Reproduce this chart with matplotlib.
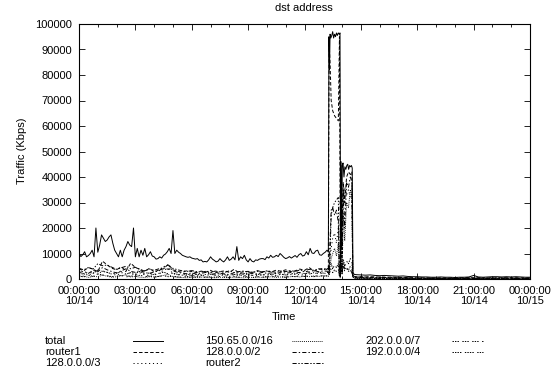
import numpy as np
import matplotlib
matplotlib.use('Agg')
import matplotlib.pyplot as plt
from matplotlib.lines import Line2D
from matplotlib.ticker import MultipleLocator

plt.rcParams['font.family'] = ['Liberation Sans', 'DejaVu Sans']
plt.rcParams['lines.scale_dashes'] = False

# ---------------- data (values in thousands of Kbps) ----------------
# total: 6-minute grid from 00:00 up to the spike
total_pre = [10.0, 8.8, 9.5, 10.7, 8.7, 9.2, 10.0, 11.3, 8.7, 20.0,
             10.5, 13.3, 17.3, 16.0, 14.7, 15.3, 16.5, 17.3, 14.0, 11.3,
             10.0, 8.7, 11.3, 8.7, 11.3, 12.7, 14.7, 13.3, 12.7, 20.0,
             8.7, 12.0, 8.7, 11.3, 9.3, 12.0, 8.7, 9.5, 10.7, 9.0,
             8.7, 7.8, 8.0, 8.7, 8.2, 9.3, 9.8, 10.7, 12.0, 10.0,
             19.0, 10.0, 11.3, 10.5, 10.0, 9.3, 9.0, 8.7, 8.5, 8.7,
             8.2, 8.0, 7.8, 8.0, 7.3, 7.5, 6.7, 6.9, 6.7, 7.5,
             8.7, 7.8, 7.3, 6.7, 7.0, 8.0, 7.2, 6.7, 7.5, 8.7,
             7.3, 7.8, 8.7, 7.5, 12.7, 7.3, 8.7, 8.0, 9.3, 7.5,
             6.7, 8.0, 7.0, 6.7, 7.5, 7.3, 7.8, 8.0, 8.0, 7.6,
             8.7, 8.2, 9.3, 8.5, 8.7, 9.3, 8.8, 10.0, 9.3, 8.5,
             8.0, 8.3, 8.8, 8.2, 8.7, 9.2, 8.5, 9.5, 10.0, 9.0,
             9.3, 10.7, 9.5, 12.0, 10.2, 10.0, 11.0, 11.3, 9.5, 9.3,
             10.0, 10.5, 11.3]
t_spike = [13.27, 13.30, 13.33, 13.36, 13.40, 13.45, 13.50, 13.55, 13.60, 13.65,
           13.70, 13.75, 13.80, 13.85, 13.89, 13.92, 13.95, 13.98, 14.01, 14.05,
           14.10, 14.15, 14.20, 14.25, 14.30, 14.35, 14.40, 14.45, 14.50, 14.54,
           14.58, 14.65]
total_spike = [10.5, 95.0, 82.0, 96.0, 94.5, 95.5, 97.0, 94.5, 96.0, 95.0,
               96.5, 95.5, 96.5, 96.0, 96.5, 3.0, 46.0, 12.0, 44.5, 45.5,
               40.0, 44.0, 43.0, 44.5, 45.0, 43.0, 44.5, 44.0, 44.5, 43.5,
               2.5, 1.8]
total_post = [1.7, 1.6, 1.5, 1.6, 1.4, 1.3, 1.4, 1.3, 1.2, 1.1,
              1.2, 1.0, 0.9, 0.9, 0.8, 0.8, 0.7, 0.7, 0.8, 0.7,
              0.7, 0.6, 0.7, 0.7, 0.8, 1.4, 0.8, 0.7, 0.8, 0.9,
              0.9, 0.8, 0.9, 0.8, 0.9, 0.8, 0.7, 0.7]

# other series: 15-minute grid before the spike, spike samples, sparse after
router1_pre = [4.0, 3.2, 4.5, 3.8, 2.9, 7.0, 5.5, 4.2, 3.6, 4.8,
               3.1, 6.2, 4.5, 3.8, 3.0, 4.2, 2.8, 3.5, 4.0, 5.8,
               3.6, 3.0, 2.6, 3.3, 2.9, 2.5, 3.1, 2.7, 3.4, 2.4,
               2.9, 3.2, 2.6, 3.8, 2.5, 2.8, 3.0, 2.6, 3.3, 2.7,
               3.1, 2.8, 3.5, 3.0, 3.6, 2.9, 3.2, 3.9, 3.4, 4.5,
               3.1, 3.8, 4.2, 3.6]
router2_pre = [4.2, 3.6, 4.5, 3.9, 6.0, 5.2, 5.5, 4.6, 3.8, 4.4,
               5.0, 4.0, 4.6, 3.7, 3.2, 3.9, 3.4, 4.0, 4.4, 3.8,
               4.2, 3.6, 3.2, 3.0, 3.3, 2.9, 2.7, 3.0, 2.6, 3.1,
               2.8, 2.6, 3.2, 2.5, 2.9, 3.1, 2.7, 2.6, 3.0, 2.8,
               3.2, 2.9, 2.6, 3.1, 2.9, 3.3, 3.0, 3.5, 3.2, 3.8,
               3.4, 4.0, 3.6, 4.2]
p128_2_pre = [2.5, 3.0, 2.2, 3.4, 2.8, 4.5, 3.6, 2.9, 2.4, 3.2,
              4.0, 3.0, 2.6, 3.4, 2.5, 2.2, 2.8, 3.1, 4.8, 5.5,
              3.2, 2.6, 2.3, 2.0, 2.4, 1.9, 2.2, 2.6, 1.8, 2.1,
              2.3, 2.0, 1.7, 2.5, 2.2, 1.9, 2.4, 2.1, 2.0, 2.6,
              2.2, 2.4, 2.0, 2.7, 2.3, 2.5, 2.9, 2.4, 3.1, 2.7,
              3.4, 2.8, 3.2, 3.0]
p128_3_pre = [1.6, 2.2, 1.4, 2.5, 1.8, 3.2, 2.6, 1.9, 1.5, 2.3,
              3.0, 2.0, 1.7, 2.4, 1.6, 1.4, 1.9, 2.2, 3.5, 4.2,
              2.1, 1.7, 1.5, 1.3, 1.6, 1.2, 1.4, 1.8, 3.0, 1.4,
              1.6, 1.3, 1.0, 1.7, 1.5, 1.2, 1.6, 1.4, 1.3, 1.8,
              1.5, 1.6, 1.3, 1.9, 1.5, 1.7, 2.0, 1.6, 2.2, 1.9,
              2.5, 2.0, 2.3, 2.1]
p150_pre = [0.8, 1.2, 0.6, 1.0, 0.9, 1.5, 1.1, 0.7, 0.9, 1.3,
            1.6, 0.8, 1.0, 0.7, 0.6, 0.9, 0.8, 1.1, 1.4, 1.8,
            0.9, 0.7, 0.6, 0.5, 0.8, 0.6, 0.7, 0.9, 0.6, 0.5,
            0.7, 0.6, 0.5, 0.8, 0.6, 0.5, 0.7, 0.6, 0.8, 0.6,
            0.7, 0.9, 0.6, 0.8, 0.7, 0.9, 1.0, 0.8, 1.1, 0.9,
            1.2, 1.0, 1.3, 1.1]
p202_pre = [1.2, 0.8, 1.5, 1.0, 2.0, 1.6, 1.3, 0.9, 1.1, 1.4,
            0.8, 1.2, 1.0, 1.5, 0.9, 1.2, 0.7, 1.0, 1.3, 0.9,
            1.1, 0.8, 0.7, 1.0, 0.6, 0.9, 0.8, 0.6, 0.9, 0.7,
            1.0, 0.8, 0.6, 0.9, 0.7, 1.1, 0.8, 0.6, 0.9, 0.7,
            1.0, 0.8, 1.2, 0.9, 0.7, 1.1, 0.9, 1.3, 1.0, 1.2,
            0.9, 1.4, 1.1, 1.3]
p192_pre = [2.4, 1.8, 2.8, 2.2, 3.5, 3.0, 2.6, 2.0, 2.3, 2.9,
            1.9, 2.5, 2.2, 3.0, 1.9, 2.4, 1.6, 2.1, 2.7, 2.0,
            2.3, 1.8, 1.5, 2.0, 1.4, 1.8, 1.6, 1.3, 1.9, 1.5,
            2.0, 1.7, 1.4, 1.8, 1.5, 2.2, 1.7, 1.4, 1.9, 1.5,
            2.0, 1.7, 2.3, 1.9, 1.6, 2.2, 1.9, 2.6, 2.1, 2.4,
            1.9, 2.8, 2.3, 2.6]

t_spike_m = [13.27, 13.31, 13.36, 13.42, 13.50, 13.60, 13.70, 13.80, 13.86, 13.91,
             13.95, 14.00, 14.06, 14.14, 14.24, 14.34, 14.44, 14.52, 14.57, 14.65]
router1_spike = [4.0, 93.0, 85.0, 70.0, 66.0, 64.0, 63.0, 62.0, 95.0, 1.5,
                 40.0, 22.0, 38.0, 30.0, 40.0, 42.0, 41.0, 42.0, 1.2, 1.0]
router2_spike = [5.0, 2.0, 10.0, 25.0, 28.0, 30.0, 31.0, 32.0, 1.5, 1.0,
                 5.0, 3.0, 6.0, 4.0, 4.5, 3.0, 3.5, 2.5, 1.0, 0.8]
p128_2_spike = [3.0, 5.0, 15.0, 27.0, 28.0, 25.0, 27.0, 22.0, 3.0, 1.0,
                38.0, 10.0, 35.0, 20.0, 38.0, 36.0, 40.0, 38.0, 1.5, 1.0]
p128_3_spike = [2.0, 3.0, 8.0, 12.0, 16.0, 18.0, 14.0, 20.0, 2.0, 0.8,
                30.0, 5.0, 28.0, 36.0, 33.0, 35.0, 32.0, 34.0, 1.0, 0.8]
p150_spike = [1.0, 2.0, 5.0, 8.0, 10.0, 12.0, 9.0, 14.0, 1.0, 0.5,
              20.0, 2.0, 25.0, 15.0, 30.0, 28.0, 35.0, 33.0, 0.6, 0.5]
p202_spike = [1.0, 1.5, 3.0, 4.0, 2.5, 3.5, 3.0, 4.0, 1.0, 0.5,
              6.0, 2.0, 5.0, 3.0, 4.0, 3.5, 5.0, 4.0, 0.5, 0.4]
p192_spike = [2.0, 2.5, 5.0, 6.0, 4.0, 5.5, 4.5, 6.0, 1.5, 0.8,
              10.0, 3.0, 8.0, 5.0, 7.0, 6.0, 8.0, 7.0, 0.8, 0.6]

t_post_m = [14.75, 15.75, 16.75, 17.75, 18.75, 19.75, 20.75, 21.75, 22.75, 24.0]
router1_post = [0.9, 0.8, 0.7, 0.5, 0.4, 0.4, 0.5, 0.4, 0.5, 0.4]
router2_post = [0.8, 0.7, 0.5, 0.4, 0.3, 0.3, 0.4, 0.4, 0.4, 0.3]
p128_2_post = [0.6, 0.5, 0.4, 0.3, 0.3, 0.2, 0.3, 0.3, 0.3, 0.2]
p128_3_post = [0.4, 0.3, 0.3, 0.2, 0.2, 0.2, 0.2, 0.2, 0.2, 0.2]
p150_post = [0.2, 0.2, 0.1, 0.1, 0.1, 0.1, 0.1, 0.1, 0.1, 0.1]
p202_post = [0.3, 0.2, 0.2, 0.1, 0.1, 0.1, 0.2, 0.1, 0.1, 0.1]
p192_post = [0.4, 0.4, 0.3, 0.2, 0.2, 0.2, 0.3, 0.2, 0.2, 0.2]

labels = ['total', 'router1', '128.0.0.0/3', '150.65.0.0/16',
          '128.0.0.0/2', 'router2', '202.0.0.0/7', '192.0.0.0/4']
tick_hours = [0, 3, 6, 9, 12, 15, 18, 21, 24]
tick_labels = ['00:00:00\n10/14', '03:00:00\n10/14', '06:00:00\n10/14',
               '09:00:00\n10/14', '12:00:00\n10/14', '15:00:00\n10/14',
               '18:00:00\n10/14', '21:00:00\n10/14', '00:00:00\n10/15']

# ---------------- assemble ----------------
def minor_series(pre, spike, post):
    t = np.concatenate([np.arange(len(pre)) * 0.25, t_spike_m, t_post_m])
    v = np.concatenate([pre, spike, post]) * 1000
    return t, v

t_tot = np.concatenate([np.arange(len(total_pre)) * 0.1, t_spike,
                        14.75 + np.arange(len(total_post)) * 0.25])
v_tot = np.concatenate([total_pre, total_spike, total_post]) * 1000

series = [
    (t_tot, v_tot),
    minor_series(router1_pre, router1_spike, router1_post),
    minor_series(p128_3_pre, p128_3_spike, p128_3_post),
    minor_series(p150_pre, p150_spike, p150_post),
    minor_series(p128_2_pre, p128_2_spike, p128_2_post),
    minor_series(router2_pre, router2_spike, router2_post),
    minor_series(p202_pre, p202_spike, p202_post),
    minor_series(p192_pre, p192_spike, p192_post),
]
styles = ['-', (0, (2.5, 1.5)), (0, (0.8, 2.0)), (0, (0.6, 0.8)),
          (0, (3, 1.5, 1, 1.5)), (0, (3, 1.2, 1, 1.2, 1, 1.2)),
          (0, (1, 0.8, 1, 0.8, 1, 2.5)), (0, (1, 0.8, 1, 0.8, 1, 0.8, 1, 2.5))]

W, H = 560, 378
fig = plt.figure(figsize=(W / 100, H / 100), dpi=100)
ax = fig.add_axes([79 / W, 1 - 279 / H, 451 / W, 255 / H])

for (t, v), ls in zip(series, styles):
    ax.plot(t, v, color='black', lw=0.7, linestyle=ls)

ax.set_xlim(0, 24)
ax.set_ylim(0, 100000)
ax.set_xticks(tick_hours)
ax.set_xticklabels(tick_labels, linespacing=1.05)
ax.xaxis.set_minor_locator(MultipleLocator(1))
ax.set_yticks(np.arange(0, 100001, 10000))
ax.set_yticklabels([str(v) for v in range(0, 100001, 10000)])
ax.tick_params(which='both', direction='in', top=True, right=True,
               width=0.6, labelsize=8, colors='black')
ax.tick_params(which='major', length=4)
ax.tick_params(which='minor', length=2.2)
ax.tick_params(axis='x', pad=5)
ax.tick_params(axis='y', pad=5)
for s in ax.spines.values():
    s.set_linewidth(0.8)

fig.text(304 / W, 1 - 8 / H, 'dst address', ha='center', va='center', fontsize=8)
fig.text(284 / W, 1 - 317 / H, 'Time', ha='center', va='center', fontsize=8)
fig.text(22 / W, 1 - 151 / H, 'Traffic (Kbps)', ha='center', va='center',
         rotation=90, fontsize=8)

# legend (gnuplot style: label then line sample), column-major
col_text_x = [45, 205, 365]
col_line_x = [(133, 163), (292, 323), (452, 483)]
row_y = [341, 352, 363]
for i, (lab, ls) in enumerate(zip(labels, styles)):
    c, r = divmod(i, 3)
    y = 1 - row_y[r] / H
    fig.text(col_text_x[c] / W, y, lab, ha='left', va='center', fontsize=8)
    x0, x1 = col_line_x[c]
    fig.add_artist(Line2D([x0 / W, x1 / W], [y, y], transform=fig.transFigure,
                          color='black', lw=0.7, linestyle=ls))

fig.savefig('out.png', dpi=100)
